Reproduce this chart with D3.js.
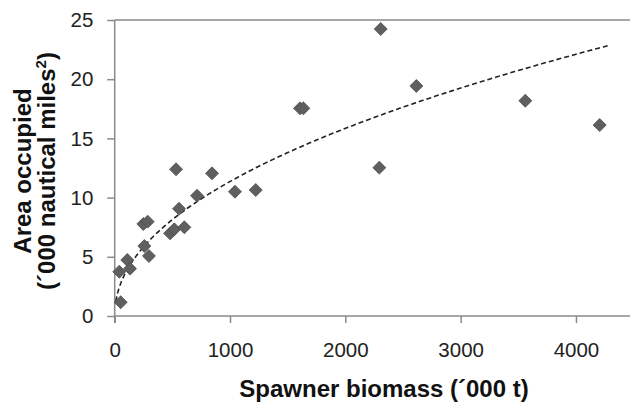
<!DOCTYPE html>
<html>
<head>
<meta charset="utf-8">
<script src="https://cdn.jsdelivr.net/npm/d3@7"></script>
<style>
  body { margin: 0; background: #fff; }
  svg { display: block; font-family: 'Liberation Sans', Arial, sans-serif; }
</style>
</head>
<body>
<div id="svg-container"></div>
<script>
// spawner biomass ('000 t)
const biomass = [40, 52, 109, 133, 248, 286, 257, 297, 532, 480, 517, 558, 604, 714, 844,
  1043, 1223, 1607, 1636, 2307, 2616, 2295, 3561, 4206]
// area occupied ('000 nautical miles^2)
const area = [3.74, 1.16, 4.73, 4.0, 7.77, 7.97, 5.91, 5.07, 12.39, 6.98, 7.32, 9.06, 7.49,
  10.16, 12.05, 10.5, 10.64, 17.54, 17.54, 24.24, 19.43, 12.53, 18.18, 16.13]

const xTicks = [0, 1000, 2000, 3000, 4000]
const yTicks = [0, 5, 10, 15, 20, 25]
const trendRange = [10, 4280]

const svgWidth = 630
const svgHeight = 404
const marginLeft = 114.7
const marginTop = 20
const plotBottom = 316
const tickFont = '20.5px'
const titleFont = '24px'

const svg = d3
  .select('#svg-container')
  .append('svg')
  .attr('width', svgWidth)
  .attr('height', svgHeight)

const xScale = d3.scaleLinear().domain([0, 4500]).range([marginLeft, marginLeft + 518.9])
const yScale = d3.scaleLinear().domain([0, 25]).range([plotBottom, marginTop])

const axisColor = '#8a8a8a'

// top border
svg
  .append('line')
  .attr('x1', marginLeft)
  .attr('x2', svgWidth)
  .attr('y1', yScale(25))
  .attr('y2', yScale(25))
  .attr('stroke', axisColor)
  .attr('stroke-width', 1.5)

// x-axis
const xAxis = svg
  .append('g')
  .attr('transform', `translate(0, ${plotBottom})`)
  .call(d3.axisBottom(xScale).tickValues(xTicks).tickFormat(d3.format('d')).tickSize(7).tickSizeOuter(0))
xAxis.select('.domain').attr('stroke', axisColor).attr('stroke-width', 1.5)
  .attr('d', `M${marginLeft},0H${svgWidth}`)
xAxis.selectAll('.tick line').attr('stroke', axisColor).attr('stroke-width', 1.5)
xAxis.selectAll('.tick text')
  .attr('fill', '#222')
  .attr('y', 40.7)
  .attr('dy', null)
  .style('font-size', tickFont)
  .style('font-family', 'Liberation Sans, Arial, sans-serif')

// y-axis
const yAxis = svg
  .append('g')
  .attr('transform', `translate(${marginLeft}, 0)`)
  .call(d3.axisLeft(yScale).tickValues(yTicks).tickSize(7.5).tickSizeOuter(0))
yAxis.select('.domain').attr('stroke', axisColor).attr('stroke-width', 1.5)
  .attr('d', `M0,${marginTop}V${plotBottom + 7}`)
yAxis.selectAll('.tick line').attr('stroke', axisColor).attr('stroke-width', 1.5)
yAxis.selectAll('.tick text')
  .attr('fill', '#222')
  .attr('x', -(marginLeft - 93.3))
  .attr('y', 6.6)
  .attr('dy', null)
  .style('font-size', tickFont)
  .style('font-family', 'Liberation Sans, Arial, sans-serif')

// axis titles
svg
  .append('text')
  .attr('x', 384)
  .attr('y', 397)
  .attr('text-anchor', 'middle')
  .style('font-size', titleFont)
  .style('font-weight', 'bold')
  .attr('fill', '#111')
  .text('Spawner biomass (´000 t)')

const yTitle = svg
  .append('text')
  .attr('transform', 'translate(0, 171) rotate(-90)')
  .attr('text-anchor', 'middle')
  .style('font-size', titleFont)
  .style('font-weight', 'bold')
  .attr('fill', '#111')
yTitle.append('tspan').attr('x', 0).attr('y', 31).text('Area occupied')
yTitle.append('tspan').attr('x', 0).attr('y', 55).text('(´000 nautical miles')
yTitle.append('tspan').attr('dy', -9).style('font-size', '15px').text('2')
yTitle.append('tspan').attr('dy', 9).text(')')

// power trendline fitted on logs, like a spreadsheet trendline
const lx = biomass.map(Math.log)
const ly = area.map(Math.log)
const mx = d3.mean(lx)
const my = d3.mean(ly)
const b = d3.sum(lx.map((v, i) => (v - mx) * (ly[i] - my))) / d3.sum(lx.map(v => (v - mx) ** 2))
const a = Math.exp(my - b * mx)
const trendPts = d3.range(0, 201).map(i => {
  const x = trendRange[0] + (trendRange[1] - trendRange[0]) * (i / 200) ** 2
  return [xScale(x), yScale(a * x ** b)]
})
svg
  .append('path')
  .attr('d', d3.line()(trendPts))
  .attr('fill', 'none')
  .attr('stroke', '#222')
  .attr('stroke-width', 1.6)
  .attr('stroke-dasharray', '5,3')

// diamonds
svg
  .append('g')
  .selectAll('path')
  .data(biomass)
  .join('path')
  .attr('transform', (d, i) => `translate(${xScale(d)}, ${yScale(area[i])}) rotate(45)`)
  .attr('d', d3.symbol(d3.symbolSquare, 84)())
  .attr('fill', '#5f5f5f')
  .attr('stroke', '#505050')
  .attr('stroke-width', 0.8)
</script>
</body>
</html>
